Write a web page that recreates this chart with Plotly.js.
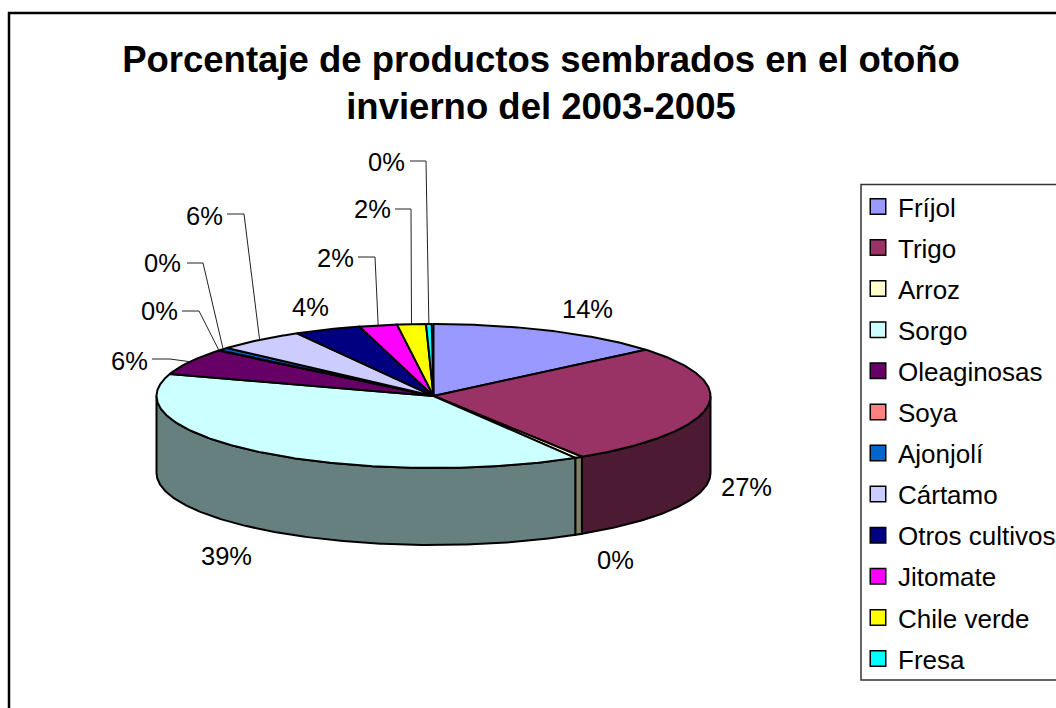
<!DOCTYPE html>
<html>
<head>
<meta charset="utf-8">
<script src="https://cdn.plot.ly/plotly-3.0.1.min.js"></script>
<style>html,body{margin:0;padding:0;background:#fff;overflow:hidden}</style>
</head>
<body>
<div id="chart" style="width:1056px;height:708px"></div>
<script>
// Data
const categories = ['Fríjol','Trigo','Arroz','Sorgo','Oleaginosas','Soya','Ajonjolí','Cártamo','Otros cultivos','Jitomate','Chile verde','Fresa'];
const shares = [13.9,27.1,0.45,38.5,5.9,0.1,0.65,5.2,3.9,2.2,1.67,0.33];
const shareLabels = ['14%','27%','0%','39%','6%','0%','0%','6%','4%','2%','2%','0%'];

// Styling and layout, kept apart from the data
const topColors = ['#9999FF','#993366','#FFFFCC','#CCFFFF','#660066','#FF8080','#0066CC','#CCCCFF','#000080','#FF00FF','#FFFF00','#00FFFF'];
const sideColors = ['#4D4D80','#4D1A33','#808066','#668080','#330033','#804040','#003366','#666680','#000040','#800080','#808000','#008080'];
const titleText = 'Porcentaje de productos sembrados en el otoño<br>invierno del 2003-2005';
const cx = 433.5, cy = 396, rx = 277, ry = 72, depth = 77;
const labelCenters = [[587,309],[746,487],[615,560],[226,556],[129,361],[159,311],[162,263],[204,216],[310,307],[335,258],[372,209],[386,162]];
// leader lines: [slice index, start x, elbow x]
const leaders = [[4,152,170],[5,182,199],[6,187,203],[7,227,244],[9,358,375],[10,395,411],[11,410,426]];
const leaderY = {4:359,5:311,6:263,7:214,9:257,10:209,11:161};

const px = a => cx + rx*Math.sin(a);
const py = a => cy - ry*Math.cos(a);
const toAngle = p => p/100*2*Math.PI;
function arc(a0,a1){
  const n = Math.max(2,Math.ceil(Math.abs(a1-a0)/0.01));
  const out = [];
  for(let i=0;i<=n;i++) out.push(a0+(a1-a0)*i/n);
  return out;
}
let cum = 0;
const slices = shares.map(v=>{const s={a0:toAngle(cum),a1:toAngle(cum+v)};cum+=v;return s;});

const traces = [];
// Side walls: only the front half of the disc is visible
slices.forEach((s,i)=>{
  const lo = Math.max(s.a0,Math.PI/2), hi = Math.min(s.a1,1.5*Math.PI);
  if(hi<=lo) return;
  const a = arc(lo,hi);
  const xs = a.map(px).concat(a.slice().reverse().map(px),[px(lo)]);
  const ys = a.map(py).concat(a.slice().reverse().map(t=>py(t)+depth),[py(lo)]);
  traces.push({x:xs,y:ys,type:'scatter',mode:'lines',fill:'toself',fillcolor:sideColors[i],
    line:{color:'#000',width:2},showlegend:false,hoverinfo:'skip'});
});
// Top face wedges
slices.forEach((s,i)=>{
  const a = arc(s.a0,s.a1);
  traces.push({x:[cx].concat(a.map(px),[cx]),y:[cy].concat(a.map(py),[cy]),type:'scatter',mode:'lines',fill:'toself',
    fillcolor:topColors[i],line:{color:'#000',width:2},showlegend:false,hoverinfo:'skip'});
});
// Leader lines, ending on the slice's rim
leaders.forEach(l=>{
  const i=l[0], s=slices[i], m=(s.a0+s.a1)/2, y=leaderY[i];
  traces.push({x:[l[1],l[2],px(m)],y:[y,y,py(m)],type:'scatter',mode:'lines',
    line:{color:'#222',width:1},showlegend:false,hoverinfo:'skip'});
});
// Legend entries
categories.forEach((c,i)=>{
  traces.push({x:[null],y:[null],type:'scatter',mode:'markers',name:c,legendgroup:c,
    marker:{symbol:'square',size:15.5,color:topColors[i],line:{color:'#000',width:1.5}},hoverinfo:'skip'});
});

const annotations = shareLabels.map((t,i)=>({text:t,x:labelCenters[i][0],y:labelCenters[i][1],xref:'x',yref:'y',
  showarrow:false,xanchor:'center',yanchor:'middle',font:{family:'Liberation Sans',size:25.5,color:'#000'}}));

const layout = {
  width:1056,height:708,margin:{l:0,r:0,t:0,b:0,autoexpand:false},paper_bgcolor:'#fff',plot_bgcolor:'#fff',
  font:{family:'Liberation Sans',color:'#000'},
  title:{text:titleText,x:541/1056,xanchor:'center',xref:'paper',y:1-72/708,yanchor:'middle',yref:'paper',
    font:{family:'Liberation Sans',size:36.5,color:'#000',weight:700}},
  xaxis:{range:[0,1056],visible:false,fixedrange:true},
  yaxis:{range:[708,0],visible:false,fixedrange:true},
  showlegend:true,
  legend:{x:858/1056,y:1-183/708,xanchor:'left',yanchor:'top',bgcolor:'rgba(0,0,0,0)',borderwidth:0,
    traceorder:'grouped',tracegroupgap:4.3,itemclick:false,itemdoubleclick:false,
    font:{family:'Liberation Sans',size:26,color:'#000'}},
  annotations,
  shapes:[
    {type:'path',path:'M 9 708 L 9 13 L 1056 13',xref:'x',yref:'y',line:{color:'#000',width:2.5},layer:'below'},
    {type:'path',path:'M 1056 184.5 L 861 184.5 L 861 680 L 1056 680',xref:'x',yref:'y',line:{color:'#333',width:1.5},layer:'below'}
  ]
};
Plotly.newPlot('chart',traces,layout,{displayModeBar:false,staticPlot:true});
</script>
</body>
</html>
